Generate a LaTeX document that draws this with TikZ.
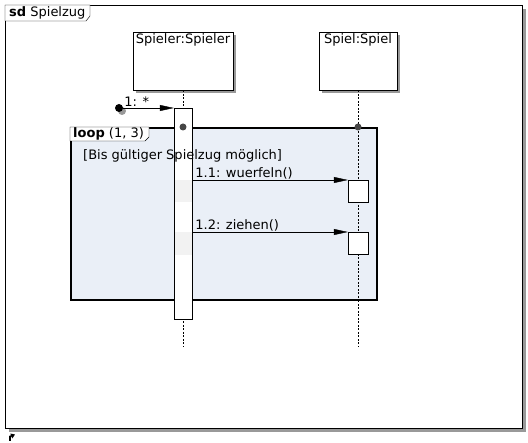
\documentclass[tikz,border=0pt]{standalone}
\usepackage{fontspec}
\setmainfont{DejaVu Sans}
\usepackage{xcolor}
\usetikzlibrary{positioning,arrows.meta,calc,shadows}

\definecolor{loopfill}{RGB}{234,239,247}
\definecolor{dotgray}{RGB}{70,70,70}

\begin{document}
\begin{tikzpicture}[
  x=1pt, y=-1pt,
  font=\fontsize{13}{15}\selectfont,
  shadowed/.style={drop shadow={shadow xshift=3pt, shadow yshift=-3pt, fill=black!40, opacity=1}},
  lifebox/.style={draw, fill=white, shadowed, anchor=north, minimum height=58pt, inner sep=0pt},
  act/.style={draw, fill=white, anchor=north, minimum width=19pt, inner sep=0pt},
  lifeline/.style={dash pattern=on 2pt off 1.5pt},
  msg/.style={-{Triangle[length=14pt,width=6pt]}},
  tab/.style={draw, fill=white},
  gate/.style={circle, fill=dotgray, minimum size=7pt, inner sep=0pt},
]
\useasboundingbox (0,0) rectangle (528,443);

% Frame
\node[draw, line width=1.2pt, fill=white, shadowed, anchor=north west, minimum width=517pt,
      minimum height=423pt, inner sep=0pt] (sd) at (5,5) {};
\draw[tab] (sd.north west) -- ++(85,0) -- ++(0,11) -- ++(-4,5) -- ($(sd.north west)+(0,16)$) -- cycle;
\node[anchor=west, inner sep=1pt] (sdlabel) at (8,13) {\textbf{sd} Spielzug};

% Lifelines
\node[lifebox, minimum width=100pt] (spieler) at (183,32) {};
\node[below=0pt of spieler.north, inner sep=1.5pt] {Spieler:Spieler};
\node[lifebox, minimum width=78pt] (spiel) at (358,32) {};
\node[below=0pt of spiel.north, inner sep=1.5pt] {Spiel:Spiel};

\coordinate (spielerEnd) at (183,346);
\coordinate (spielEnd) at (358,346);
\draw[lifeline] (spieler.south) -- (spielerEnd);
\draw[lifeline] (spiel.south) -- (spielEnd);

% Combined fragment
\node[draw, line width=1.6pt, fill=loopfill, anchor=north west, minimum width=306pt,
      minimum height=172pt, inner sep=0pt] (loop) at (70,127) {};
\draw[lifeline] (358,128) -- (358,299);
\draw[tab] (loop.north west) -- ++(79,0) -- ++(0,10) -- ++(-4,4) -- ($(loop.north west)+(0,14)$) -- cycle;
\node[anchor=west, inner sep=1pt] (looplabel) at (72,134) {\textbf{loop} (1, 3)};

% Activation Spieler
\node[act, minimum width=18pt, minimum height=211pt] (actA) at (183,108) {};
\fill[black!5] (175,180.5) rectangle (191.5,202);
\fill[black!5] (175,232.5) rectangle (191.5,255);
\node[gate] (gateA) at (183,127) {};
\node[gate] (gateB) at (358,127) {};
\node[anchor=west, inner sep=1pt] (guard) at (82,156) {[Bis gültiger Spielzug möglich]};

% Found message
\node[circle, fill=black, minimum size=8pt, inner sep=0pt, shadowed] (start) at (119,108) {};
\draw[msg] (start) -- (actA.north west) node[pos=0, anchor=south west, inner sep=1pt, xshift=0pt] {1: *};

% Calls
\node[act, minimum width=20pt, minimum height=22pt] (call1) at (358,180) {};
\node[act, minimum width=20pt, minimum height=22pt] (call2) at (358,232) {};
\draw[msg] (call1.north west -| actA.east) -- (call1.north west)
  node[pos=0, anchor=south west, inner sep=1pt, xshift=2pt] {1.1: wuerfeln()};
\draw[msg] (call2.north west -| actA.east) -- (call2.north west)
  node[pos=0, anchor=south west, inner sep=1pt, xshift=2pt] {1.2: ziehen()};

% Corner icon
\draw[line width=1.6pt, -{Triangle[length=4pt,width=5pt]}] (10,441) -- (10,436.5) -- (15,434.5);

\end{tikzpicture}
\end{document}
